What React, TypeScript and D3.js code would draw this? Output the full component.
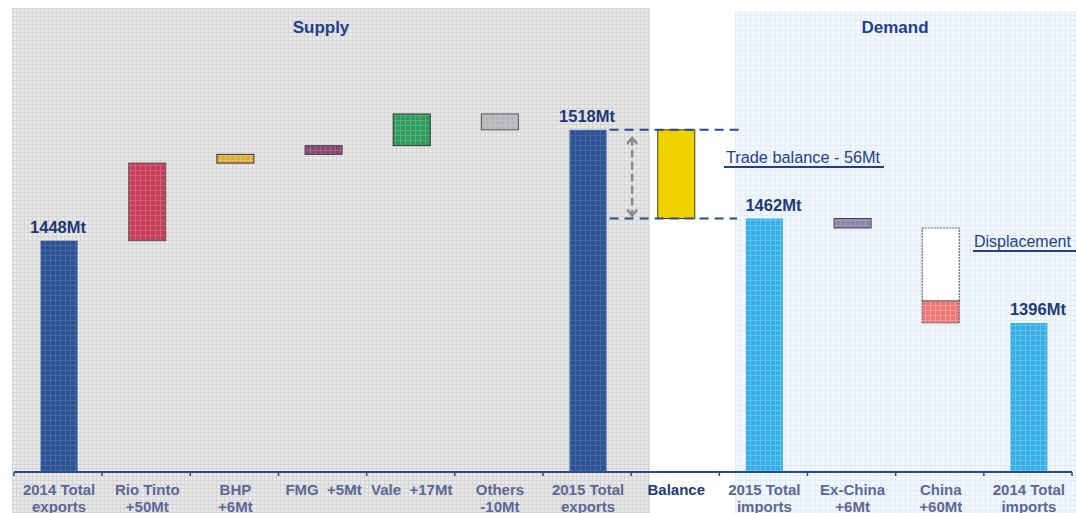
import React from "react";
import * as d3 from "d3";

// categories along the axis (two label lines each)
const categories = [
  "2014 exports", "Rio Tinto", "BHP", "FMG", "Vale", "Others",
  "2015 exports", "Balance", "2015 imports", "Ex-China", "China", "2014 imports",
];
const labelLine1 = [
  "2014 Total", "Rio Tinto", "BHP", "FMG\u00a0\u00a0+5Mt", "Vale\u00a0\u00a0+17Mt", "Others",
  "2015 Total", "Balance", "2015 Total", "Ex-China", "China", "2014 Total",
];
const labelLine2 = [
  "exports", "+50Mt", "+6Mt", "", "", "-10Mt",
  "exports", "", "imports", "+6Mt", "+60Mt", "imports",
];

// totals (Mt)
const totalCats = ["2014 exports", "2015 exports", "2015 imports", "2014 imports"];
const totalValues = [1448, 1518, 1462, 1396];
const totalLabels = ["1448Mt", "1518Mt", "1462Mt", "1396Mt"];

// floating bars (Mt), low / high
const floatCats = ["Rio Tinto", "BHP", "FMG", "Vale", "Others", "Balance", "Ex-China"];
const floatLow = [1448, 1497, 1502.5, 1508, 1518, 1462, 1456];
const floatHigh = [1497, 1502.5, 1508, 1528, 1528, 1518, 1462];

// China displacement box
const chinaLow = 1396;
const chinaSplit = 1410;
const chinaHigh = 1456;

const W = 1076;
const H = 513;
const axisY = 472;

const navy = "#1f3f8f";
const labelColor = "#5a6897";

const fills: Record<string, { base: string; line: string; stroke?: string }> = {
  "2014 exports": { base: "#2d5291", line: "#4a6cab" },
  "2015 exports": { base: "#2d5291", line: "#4a6cab" },
  "Rio Tinto": { base: "#c53c58", line: "#d9687e", stroke: "#555" },
  BHP: { base: "#deac3c", line: "#eac468", stroke: "#333" },
  FMG: { base: "#8a4676", line: "#a86c96", stroke: "#444" },
  Vale: { base: "#2f9a5c", line: "#5cb57f", stroke: "#333" },
  Others: { base: "#b7b7bb", line: "#c8c8cc", stroke: "#555" },
  Balance: { base: "#f0d200", line: "#f0d200", stroke: "#4a3f00" },
  "2015 imports": { base: "#35aee8", line: "#6cc6ef" },
  "2014 imports": { base: "#35aee8", line: "#6cc6ef" },
  "Ex-China": { base: "#8a84a8", line: "#a8a3c0", stroke: "#444" },
};

const pid = (c: string) => "p-" + c.replace(/[^a-zA-Z0-9]/g, "");

export default function App() {
  const x = d3.scaleBand().domain(categories).range([15, 1073]).paddingInner(0.58).paddingOuter(0.29);
  const y = d3.scaleLinear().domain([1300, 1600]).range([475, 0]);
  const bw = x.bandwidth();
  const step = x.step();
  const ticks = d3.range(categories.length + 1).map((i) => 14 + i * step);

  const x15 = x("2015 exports")!;
  const xBal = x("Balance")!;
  const arrowX = (x15 + bw + xBal) / 2;
  const yTop = y(1518);
  const yBot = y(1462);

  return (
    <svg width={W} height={H} style={{ position: "absolute", left: 0, top: 0, display: "block" }}
      fontFamily="'Liberation Sans', Arial, sans-serif">
      <defs>
        <pattern id="bgGray" width={4} height={4} patternUnits="userSpaceOnUse">
          <rect width={4} height={4} fill="#e8e8e8" />
          <path d="M0 0.5H4M0.5 0V4" stroke="#d5d5d5" strokeWidth={1} />
        </pattern>
        <pattern id="bgBlue" width={5} height={5} patternUnits="userSpaceOnUse">
          <rect width={5} height={5} fill="#f1f7fd" />
          <path d="M0 0.5H5M0.5 0V5" stroke="#e1ecf8" strokeWidth={1} />
        </pattern>
        {Object.entries(fills).map(([k, f]) => (
          <pattern key={k} id={pid(k)} width={5} height={5} patternUnits="userSpaceOnUse">
            <rect width={5} height={5} fill={f.base} />
            <path d="M0 0.5H5M0.5 0V5" stroke={f.line} strokeWidth={1} opacity={0.8} />
          </pattern>
        ))}
        <pattern id="pRed" width={5} height={5} patternUnits="userSpaceOnUse">
          <rect width={5} height={5} fill="#f07474" />
          <path d="M0 0.5H5M0.5 0V5" stroke="#f59a9a" strokeWidth={1} />
        </pattern>
      </defs>

      {/* panels */}
      <rect x={12} y={8} width={638} height={H} fill="url(#bgGray)" />
      <rect x={735} y={11} width={W - 735} height={H} fill="url(#bgBlue)" />

      <text x={321} y={33} textAnchor="middle" fontSize={17} fontWeight="bold" fill={navy}>Supply</text>
      <text x={895} y={33} textAnchor="middle" fontSize={17} fontWeight="bold" fill={navy}>Demand</text>

      {/* total bars */}
      {totalCats.map((c, i) => (
        <g key={c}>
          <rect x={x(c)} y={y(totalValues[i])} width={bw} height={axisY - y(totalValues[i])} fill={`url(#${pid(c)})`} />
          <text x={x(c)! + bw / 2 + (i >= 2 ? 9 : -1)} y={y(totalValues[i]) - 8} textAnchor="middle"
            fontSize={16.5} fontWeight="bold" fill="#1c3a78">{totalLabels[i]}</text>
        </g>
      ))}

      {/* floating bars */}
      {floatCats.map((c, i) => (
        <rect key={c} x={x(c)} y={y(floatHigh[i])} width={bw} height={y(floatLow[i]) - y(floatHigh[i])}
          fill={`url(#${pid(c)})`} stroke={fills[c].stroke} strokeWidth={1} />
      ))}

      {/* China displacement */}
      <rect x={x("China")} y={y(chinaHigh)} width={bw} height={y(chinaSplit) - y(chinaHigh)}
        fill="#ffffff" stroke="#666" strokeWidth={1.2} strokeDasharray="2,1" />
      <rect x={x("China")} y={y(chinaSplit)} width={bw} height={y(chinaLow) - y(chinaSplit)}
        fill="url(#pRed)" stroke="#666" strokeWidth={1.2} strokeDasharray="2,1" />

      {/* trade balance guides */}
      <line x1={x15 + bw + 3} x2={743} y1={yTop} y2={yTop} stroke="#2b4a8a" strokeWidth={2} strokeDasharray="9,6" />
      <line x1={x15 + bw + 3} x2={737} y1={yBot} y2={yBot} stroke="#2b4a8a" strokeWidth={2} strokeDasharray="9,6" />
      <line x1={arrowX} x2={arrowX} y1={yTop + 8} y2={yBot - 3} stroke="#8a8a8a" strokeWidth={2.5} strokeDasharray="8,4" />
      <path d={`M${arrowX - 5},${yTop + 14} L${arrowX},${yTop + 8} L${arrowX + 5},${yTop + 14}`} fill="none" stroke="#8a8a8a" strokeWidth={2.5} />
      <path d={`M${arrowX - 5},${yBot - 9} L${arrowX},${yBot - 3} L${arrowX + 5},${yBot - 9}`} fill="none" stroke="#8a8a8a" strokeWidth={2.5} />

      <text x={726} y={163} fontSize={16.3} fill={navy}>Trade balance - 56Mt</text>
      <line x1={724} x2={884} y1={167} y2={167} stroke={navy} strokeWidth={2} />
      <text x={974} y={247} fontSize={16} fill={navy}>Displacement</text>
      <line x1={973} x2={1076} y1={251} y2={251} stroke={navy} strokeWidth={2} />

      {/* axis */}
      <line x1={14} x2={1072} y1={axisY} y2={axisY} stroke="#2b4a8a" strokeWidth={2} />
      {ticks.map((t, i) => (
        <line key={i} x1={t} x2={t} y1={axisY} y2={axisY + 4} stroke="#2b4a8a" strokeWidth={1.5} />
      ))}
      {categories.map((c, i) => (
        <text key={c} x={x(c)! + bw / 2} textAnchor="middle" fontSize={15} fontWeight="bold"
          fill={c === "Balance" ? "#1c3a78" : labelColor}>
          <tspan x={x(c)! + bw / 2} y={495}>{labelLine1[i]}</tspan>
          {labelLine2[i] && <tspan x={x(c)! + bw / 2} y={512}>{labelLine2[i]}</tspan>}
        </text>
      ))}
    </svg>
  );
}
